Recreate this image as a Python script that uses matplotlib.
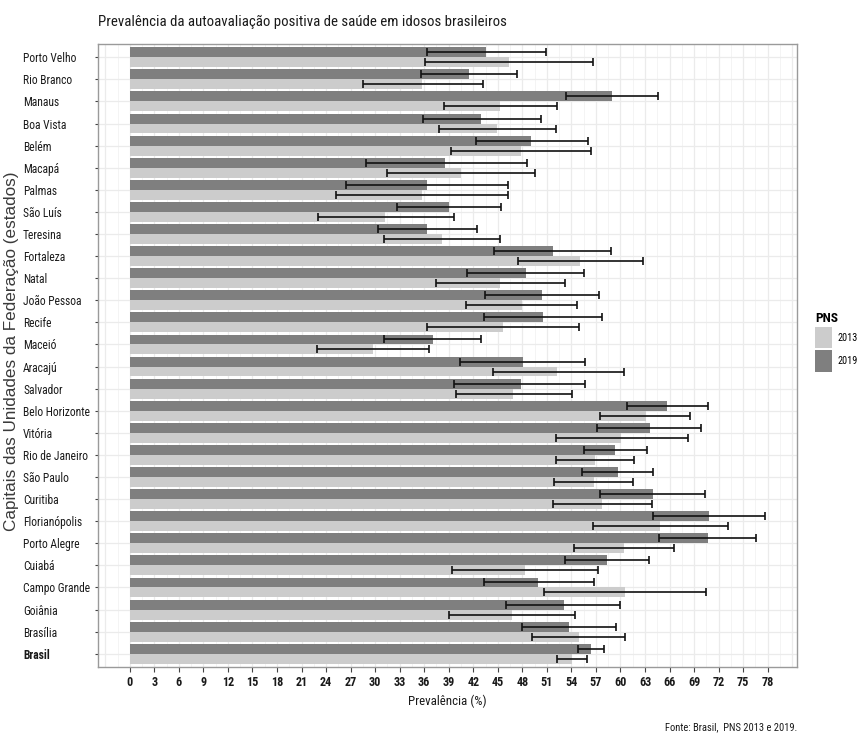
import numpy as np
import matplotlib
matplotlib.use("Agg")
import matplotlib.pyplot as plt
from matplotlib import font_manager as fm
from matplotlib.patches import Patch

cats = ["Porto Velho", "Rio Branco", "Manaus", "Boa Vista", "Belém", "Macapá", "Palmas",
        "São Luís", "Teresina", "Fortaleza", "Natal", "João Pessoa", "Recife", "Maceió",
        "Aracajú", "Salvador", "Belo Horizonte", "Vitória", "Rio de Janeiro", "São Paulo",
        "Curitiba", "Florianópolis", "Porto Alegre", "Cuiabá", "Campo Grande", "Goiânia",
        "Brasília", "Brasil"]

v2019 = [43.5, 41.5, 59.0, 43.0, 49.1, 38.6, 36.3, 39.0, 36.3, 51.7, 48.4, 50.4, 50.5, 37.1,
         48.1, 47.8, 65.7, 63.6, 59.3, 59.7, 64.0, 70.8, 70.7, 58.4, 49.9, 53.1, 53.7, 56.4]
lo2019 = [36.3, 35.6, 53.4, 35.8, 42.3, 28.9, 26.4, 32.7, 30.3, 44.5, 41.2, 43.4, 43.3, 31.1,
          40.4, 39.7, 60.8, 57.1, 55.5, 55.3, 57.5, 64.0, 64.7, 53.2, 43.3, 46.0, 48.0, 54.8]
hi2019 = [50.9, 47.4, 64.6, 50.3, 56.0, 48.6, 46.3, 45.4, 42.5, 58.9, 55.5, 57.4, 57.8, 43.0,
          55.7, 55.7, 70.7, 69.9, 63.3, 64.0, 70.3, 77.7, 76.6, 63.5, 56.8, 59.9, 59.4, 58.0]
v2013 = [46.4, 35.7, 45.3, 44.9, 47.8, 40.5, 35.7, 31.2, 38.2, 55.0, 45.3, 47.9, 45.6, 29.8,
         52.3, 46.9, 63.1, 60.1, 56.9, 56.8, 57.7, 64.8, 60.4, 48.3, 60.6, 46.7, 54.9, 54.1]
lo2013 = [36.1, 28.5, 38.4, 37.8, 39.3, 31.5, 25.2, 23.0, 31.1, 47.5, 37.4, 41.1, 36.3, 22.9,
          44.4, 39.9, 57.5, 52.1, 52.1, 51.9, 51.7, 56.7, 54.3, 39.4, 50.7, 39.0, 49.2, 52.2]
hi2013 = [56.6, 43.2, 52.3, 52.1, 56.4, 49.5, 46.3, 39.7, 45.3, 62.7, 53.2, 54.7, 54.9, 36.6,
          60.4, 54.1, 68.5, 68.3, 61.6, 61.5, 63.8, 73.1, 66.6, 57.3, 70.5, 54.4, 60.5, 55.9]

years = ["2013", "2019"]
x_ticks = list(range(0, 79, 3))

# ---- font choice: a narrow sans if one is installed ----
entries = fm.fontManager.ttflist
names = {f.name for f in entries}
narrow_family, narrow_stretch = None, "normal"
for cand in ["Liberation Sans Narrow", "Arial Narrow", "Roboto Condensed",
             "DejaVu Sans Condensed", "Open Sans Condensed", "Noto Sans Condensed"]:
    if cand in names:
        narrow_family = cand
        break
if narrow_family is None:
    cond = [f for f in entries
            if str(f.stretch) in ("condensed", "semi-condensed", "extra-condensed", "ultra-condensed")
            or (isinstance(f.stretch, (int, float)) and f.stretch < 500)]
    for p in ["Roboto", "Liberation Sans", "Open Sans", "Noto Sans", "DejaVu Sans", "Lato", "Inter"]:
        if any(f.name == p for f in cond):
            narrow_family, narrow_stretch = p, "condensed"
            break
if narrow_family is None:
    narrow_family = "Liberation Sans"

wide = "Liberation Sans" if "Liberation Sans" in names else "DejaVu Sans"
plt.rcParams["font.family"] = [narrow_family, "DejaVu Sans"]
plt.rcParams["font.stretch"] = narrow_stretch

C13 = "#cccccc"
C19 = "#7f7f7f"
TXT = "#1a1a1a"
W, H = 859, 735

fig = plt.figure(figsize=(W / 100, H / 100), dpi=100)
renderer = fig.canvas.get_renderer()


def fit_size(text, size, target_px, **kw):
    t = fig.text(0, 0, text, fontsize=size, **kw)
    w = t.get_window_extent(renderer=renderer).width
    t.remove()
    return size * target_px / w


ax = fig.add_axes([98 / W, 1 - 667 / H, (797 - 98) / W, (667 - 44) / H])

n = len(cats)
y = np.arange(n)
bw = 0.45
ax.barh(y - bw / 2, v2019, height=bw, color=C19, zorder=2)
ax.barh(y + bw / 2, v2013, height=bw, color=C13, zorder=2)

v19 = np.array(v2019); v13 = np.array(v2013)
err19 = [v19 - np.array(lo2019), np.array(hi2019) - v19]
err13 = [v13 - np.array(lo2013), np.array(hi2013) - v13]
ekw = dict(fmt="none", ecolor="#111111", elinewidth=1.2, capsize=2.6, capthick=1.2, zorder=3)
ax.errorbar(v2019, y - bw / 2, xerr=err19, **ekw)
ax.errorbar(v2013, y + bw / 2, xerr=err13, **ekw)

xmax = max(max(hi2019), max(hi2013))
pad = 0.05 * xmax
ax.set_xlim(-pad, xmax + pad)
ax.set_ylim(n - 1 + 0.6, -0.6)

for xv in np.arange(-3, 82, 3):
    ax.axvline(xv, color="#ebebeb", lw=0.9, zorder=0)
for xv in np.arange(-1.5, 82, 3):
    ax.axvline(xv, color="#f3f3f3", lw=0.6, zorder=0)
for yv in y:
    ax.axhline(yv, color="#ebebeb", lw=0.9, zorder=0)

# sizes fitted to the widths measured on the reference
ytick_fs = fit_size("Belo Horizonte", 10, 67)
xtick_fs = min(fit_size("12", 10, 11, fontweight="bold") * 1.12, 10.5)
xlab_fs = fit_size("Prevalência (%)", 10, 78)
title_fs = fit_size("Prevalência da autoavaliação positiva de saúde em idosos brasileiros", 10, 405)
cap_fs = fit_size("Fonte: Brasil,  PNS 2013 e 2019.", 10, 132)
leg_fs = fit_size("2013", 10, 20)
legt_fs = fit_size("PNS", 10, 23, fontweight="bold")
ylab_fs = 12.3

ax.set_xticks(x_ticks)
ax.set_xticklabels([str(t) for t in x_ticks], fontsize=xtick_fs, fontweight="bold", color=TXT)
ax.set_yticks(y)
ax.set_yticklabels(cats, fontsize=ytick_fs, color=TXT)
for lab in ax.get_yticklabels():
    lab.set_horizontalalignment("left")
    if lab.get_text() == "Brasil":
        lab.set_fontweight("bold")
tick_len = 2.5
ax.tick_params(axis="y", length=tick_len, width=0.8, color="#444444",
               pad=(98 - 23) * 72 / 100 - tick_len)
ax.tick_params(axis="x", length=3.5, width=0.8, color="#444444", pad=3)

for s in ax.spines.values():
    s.set_color("#9a9a9a")
    s.set_linewidth(1.0)

ax.set_xlabel("Prevalência (%)", fontsize=xlab_fs, color=TXT, labelpad=4)
fig.text(12 / W, 1 - 351 / H, "Capitais das Unidades da Federação (estados)",
         rotation=90, ha="center", va="center", fontsize=ylab_fs, color="#3a3a3a",
         family=[wide, "DejaVu Sans"], stretch="normal")

fig.text(98 / W, 1 - 22 / H, "Prevalência da autoavaliação positiva de saúde em idosos brasileiros",
         ha="left", va="center", fontsize=title_fs, color=TXT)

fig.text(797 / W, 1 - 727 / H, "Fonte: Brasil,  PNS 2013 e 2019.",
         ha="right", va="center", fontsize=cap_fs, color=TXT)

handles = [Patch(facecolor=C13, edgecolor="none", label=years[0]),
           Patch(facecolor=C19, edgecolor="none", label=years[1])]
fpx = leg_fs * 100 / 72
leg = fig.legend(handles=handles, title="PNS", loc="upper left",
                 bbox_to_anchor=(815 / W, 1 - 312 / H), frameon=False,
                 prop={"size": leg_fs},
                 title_fontproperties={"weight": "bold", "size": legt_fs},
                 handlelength=17 / fpx, handleheight=29 / fpx, labelspacing=2 / fpx,
                 handletextpad=5 / fpx, borderpad=0, borderaxespad=0)
leg._legend_box.align = "left"

fig.savefig("out.png", dpi=100)
